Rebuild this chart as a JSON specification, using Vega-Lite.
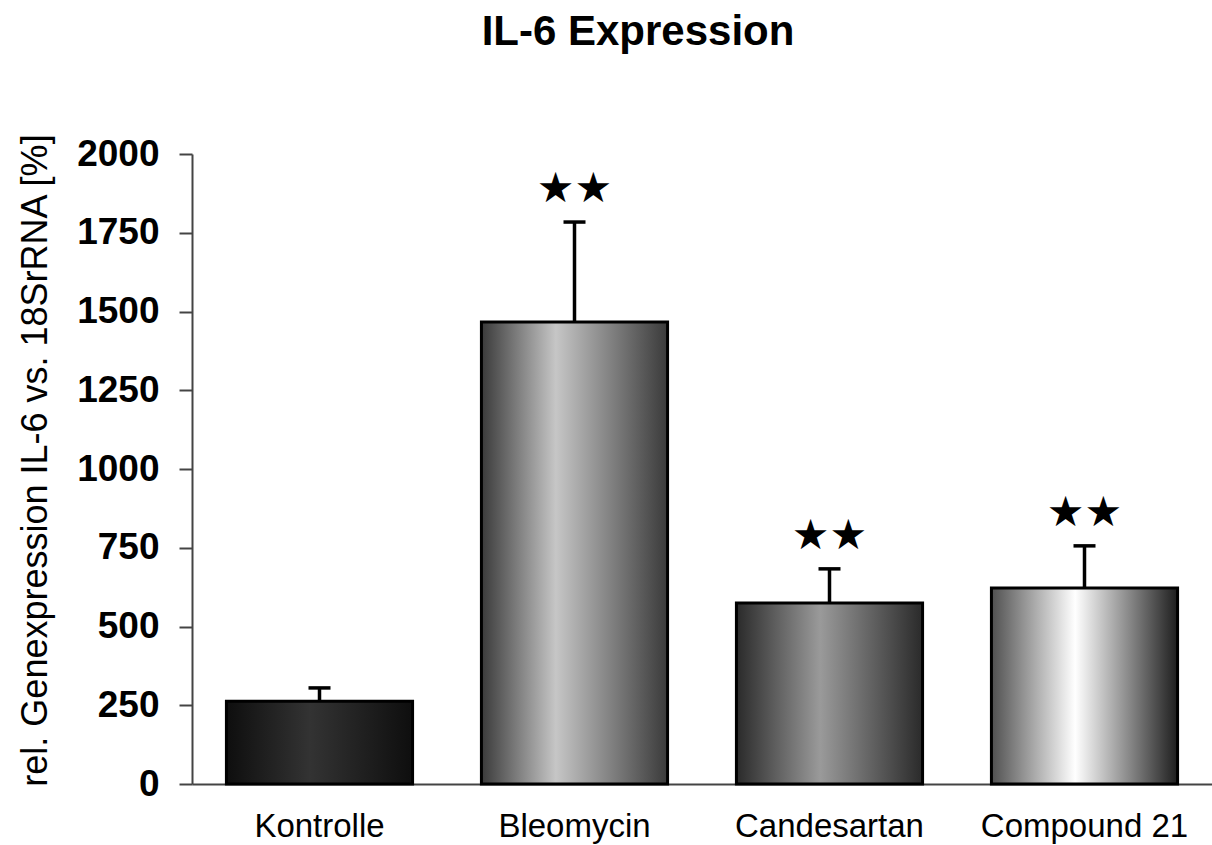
{
  "$schema": "https://vega.github.io/schema/vega-lite/v6.json",
  "autosize": "none",
  "width": 1020,
  "height": 630,
  "padding": {"left": 192, "top": 154, "right": 0, "bottom": 61},
  "background": "white",
  "title": {
    "text": "IL-6 Expression",
    "font": "Liberation Sans",
    "fontSize": 42,
    "fontWeight": "bold",
    "color": "black",
    "anchor": "middle",
    "baseline": "alphabetic",
    "dx": -64,
    "offset": 46
  },
  "config": {
    "view": {"stroke": null},
    "font": "Liberation Sans"
  },
  "data": {
    "values": [
      {"group": "Kontrolle", "value": 263, "upper": 305, "stars": ""},
      {"group": "Bleomycin", "value": 1467, "upper": 1784, "stars": "★★"},
      {"group": "Candesartan", "value": 575, "upper": 683, "stars": "★★"},
      {"group": "Compound 21", "value": 622, "upper": 756, "stars": "★★"}
    ]
  },
  "encoding": {
    "x": {
      "field": "group",
      "type": "nominal",
      "sort": null,
      "scale": {"paddingInner": 0.27, "paddingOuter": 0.135},
      "axis": {
        "title": null,
        "labelAngle": 0,
        "labelFont": "Liberation Sans",
        "labelFontSize": 33,
        "labelColor": "black",
        "labelPadding": 26,
        "labelLimit": 0,
        "ticks": false,
        "domainColor": "#444",
        "domainWidth": 2
      }
    }
  },
  "layer": [
    {
      "transform": [{"filter": "datum.group === 'Kontrolle'"}],
      "mark": {
        "type": "bar",
        "stroke": "black",
        "strokeWidth": 3,
        "fill": {"gradient": "linear", "x1": 0, "y1": 0, "x2": 1, "y2": 0,
          "stops": [{"offset": 0, "color": "#0e0e0e"}, {"offset": 0.45, "color": "#333333"}, {"offset": 1, "color": "#0e0e0e"}]}
      },
      "encoding": {
        "y": {
          "field": "value",
          "type": "quantitative",
          "scale": {"domain": [0, 2000]},
          "axis": {
            "values": [0, 250, 500, 750, 1000, 1250, 1500, 1750, 2000],
            "format": "d",
            "grid": false,
            "title": "rel. Genexpression IL-6 vs. 18SrRNA [%]",
            "titleFont": "Liberation Sans",
            "titleFontSize": 36,
            "titleFontWeight": "normal",
            "titleColor": "black",
            "titleX": -146,
            "titleY": 306,
            "titleAngle": -90,
            "titleAlign": "center",
            "titleBaseline": "alphabetic",
            "labelFont": "Liberation Sans",
            "labelFontSize": 37,
            "labelFontWeight": "bold",
            "labelColor": "black",
            "labelPadding": 20,
            "tickSize": 13,
            "tickWidth": 2,
            "tickColor": "#444",
            "domainColor": "#444",
            "domainWidth": 2
          }
        }
      }
    },
    {
      "transform": [{"filter": "datum.group === 'Bleomycin'"}],
      "mark": {
        "type": "bar",
        "stroke": "black",
        "strokeWidth": 3,
        "fill": {"gradient": "linear", "x1": 0, "y1": 0, "x2": 1, "y2": 0,
          "stops": [{"offset": 0, "color": "#3a3a3a"}, {"offset": 0.4, "color": "#c6c6c6"}, {"offset": 1, "color": "#3a3a3a"}]}
      },
      "encoding": {"y": {"field": "value", "type": "quantitative"}}
    },
    {
      "transform": [{"filter": "datum.group === 'Candesartan'"}],
      "mark": {
        "type": "bar",
        "stroke": "black",
        "strokeWidth": 3,
        "fill": {"gradient": "linear", "x1": 0, "y1": 0, "x2": 1, "y2": 0,
          "stops": [{"offset": 0, "color": "#2a2a2a"}, {"offset": 0.45, "color": "#9a9a9a"}, {"offset": 1, "color": "#2a2a2a"}]}
      },
      "encoding": {"y": {"field": "value", "type": "quantitative"}}
    },
    {
      "transform": [{"filter": "datum.group === 'Compound 21'"}],
      "mark": {
        "type": "bar",
        "stroke": "black",
        "strokeWidth": 3,
        "fill": {"gradient": "linear", "x1": 0, "y1": 0, "x2": 1, "y2": 0,
          "stops": [{"offset": 0, "color": "#505050"}, {"offset": 0.45, "color": "#ffffff"}, {"offset": 1, "color": "#1e1e1e"}]}
      },
      "encoding": {"y": {"field": "value", "type": "quantitative"}}
    },
    {
      "mark": {"type": "rule", "color": "black", "strokeWidth": 3.5},
      "encoding": {
        "y": {"field": "value", "type": "quantitative"},
        "y2": {"field": "upper"}
      }
    },
    {
      "mark": {"type": "tick", "color": "black", "size": 22, "thickness": 3.5, "opacity": 1},
      "encoding": {
        "y": {"field": "upper", "type": "quantitative"}
      }
    },
    {
      "mark": {"type": "text", "font": "DejaVu Sans", "fontSize": 42, "color": "black", "baseline": "alphabetic", "dy": -20},
      "encoding": {
        "y": {"field": "upper", "type": "quantitative"},
        "text": {"field": "stars"}
      }
    }
  ]
}
